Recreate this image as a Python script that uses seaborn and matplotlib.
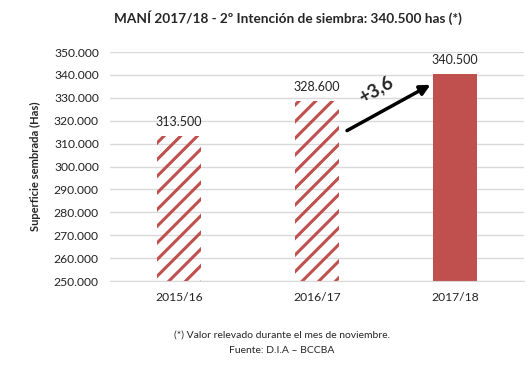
import numpy as np
import pandas as pd
import matplotlib.pyplot as plt
import seaborn as sns
from matplotlib.ticker import FuncFormatter

# data
campanias = ['2015/16', '2016/17', '2017/18']
superficie = [313500, 328600, 340500]
etiquetas = ['313.500', '328.600', '340.500']
variacion = '+3,6'

rojo = '#C0504D'

sns.set_style('white')
plt.rcParams['font.family'] = ['Lato', 'DejaVu Sans']
plt.rcParams['hatch.linewidth'] = 2.2

df = pd.DataFrame({'campania': campanias, 'superficie': superficie})

fig = plt.figure(figsize=(5.27, 3.66), dpi=100)
ax = fig.add_axes([0.2087, 0.2322, 0.7856, 0.6257])

sns.barplot(data=df, x='campania', y='superficie', ax=ax, width=0.32,
            color=rojo, saturation=1)

for i, p in enumerate(ax.patches):
    if i < 2:
        # barras rayadas (campañas anteriores), se ve la grilla por detrás
        p.set_facecolor('none')
        p.set_edgecolor(rojo)
        p.set_hatch('//')
        p.set_linewidth(0)
    else:
        p.set_linewidth(0)
    ax.text(i, superficie[i] + 3500, etiquetas[i], ha='center', va='bottom',
            fontsize=9, color='#222222')

ax.set_ylim(250000, 350000)
ax.set_xlim(-0.5, 2.5)
ax.set_yticks(np.arange(250000, 350001, 10000))
ax.yaxis.set_major_formatter(FuncFormatter(lambda v, _: '{:,.0f}'.format(v).replace(',', '.')))
ax.grid(axis='y', color='#D9D9D9', linewidth=1)
ax.set_axisbelow(True)
for s in ['top', 'right', 'left']:
    ax.spines[s].set_visible(False)
ax.spines['bottom'].set_color('#D9D9D9')
ax.tick_params(axis='both', length=0, labelsize=8.7, colors='#222222')
ax.tick_params(axis='x', pad=8)
ax.tick_params(axis='y', pad=8)
ax.set_xlabel('')
ax.set_ylabel('Superficie sembrada (Has)', fontsize=8, fontweight='bold', labelpad=9)

# flecha de variacion
ax.annotate('', xy=(1.84, 336300), xytext=(1.20, 315100),
            arrowprops=dict(arrowstyle='-|>', color='black', lw=2.5, mutation_scale=15))
ax.text(1.43, 333500, variacion, rotation=30, ha='center', va='center',
        fontsize=13.5, fontweight='bold')

fig.text(0.547, 0.953, 'MANÍ 2017/18 - 2º Intención de siembra: 340.500 has (*)',
         ha='center', va='center', fontsize=9.8, fontweight='bold')
fig.text(0.535, 0.085, '(*) Valor relevado durante el mes de noviembre.',
         ha='center', va='center', fontsize=7.5)
fig.text(0.535, 0.043, 'Fuente: D.I.A – BCCBA', ha='center', va='center', fontsize=7.5)

fig.savefig('out.png', dpi=100)
